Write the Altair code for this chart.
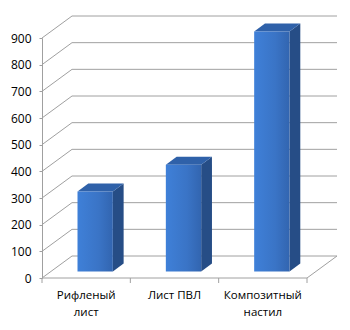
import altair as alt
import pandas as pd

categories = ["Рифленый\nлист", "Лист ПВЛ", "Композитный\nнастил"]
values = [300, 400, 900]
y_ticks = [0, 100, 200, 300, 400, 500, 600, 700, 800, 900]

W, H, YMAX = 265, 240, 900
N = len(categories)
ux = N / W          # data units per px (x)
uy = YMAX / H       # data units per px (y)
DX, DY = 30, 22     # full depth in px
F1, F2 = 0.3, 0.66  # bar front/back depth fraction
HALF = 0.2

front_rows, side_rows, top_rows = [], [], []
for i, v in enumerate(values):
    fdx, fdy = F1 * DX * ux, F1 * DY * uy
    bdx, bdy = F2 * DX * ux, F2 * DY * uy
    L = i + 0.5 - HALF + fdx
    R = i + 0.5 + HALF + fdx
    front_rows.append(dict(cat=i, x=L, x2=R, y=fdy, y2=v + fdy))
    ddx = bdx - fdx
    side_rows.append(dict(cat=i, x=R, y=v + fdy, y2=fdy))
    side_rows.append(dict(cat=i, x=R + ddx, y=v + bdy, y2=bdy))
    top_rows.append(dict(cat=i, y=v + fdy, x=L, x2=R))
    top_rows.append(dict(cat=i, y=v + bdy, x=L + ddx, x2=R + ddx))

front_df = pd.DataFrame(front_rows)
side_df = pd.DataFrame(side_rows)
top_df = pd.DataFrame(top_rows)
grid_df = pd.DataFrame({"v": y_ticks})
lab_df = pd.DataFrame({"x": [i + 0.5 for i in range(N)], "label": categories})
tick_df = pd.DataFrame({"x": list(range(N + 1))})

xs = alt.Scale(domain=[0, N], nice=False, zero=False)
ys = alt.Scale(domain=[0, YMAX], nice=False)
GRID = "#a0a0a0"

yaxis = alt.Axis(
    values=y_ticks, grid=False, domainColor=GRID, tickColor=GRID, tickSize=3,
    labelPadding=8, labelFontSize=12, labelFont="Open Sans", labelColor="#000000",
    labelOverlap=False, labelFlush=False, title=None, domainWidth=1)


def Y(field):
    return alt.Y(field, scale=ys, axis=yaxis)


back_grid = alt.Chart(grid_df).mark_rule(
    color=GRID, strokeWidth=1, xOffset=DX, x2Offset=DX, yOffset=-DY, y2Offset=-DY
).encode(
    x=alt.datum(0, scale=xs),
    x2=alt.datum(N),
    y=Y("v:Q"),
)

diag = alt.Chart(grid_df).mark_rule(
    color=GRID, strokeWidth=1, x2Offset=DX, y2Offset=-DY
).encode(
    x=alt.datum(0, scale=xs),
    x2=alt.datum(0),
    y=Y("v:Q"),
    y2="v:Q",
)

floor_right = alt.Chart(pd.DataFrame({"v": [0]})).mark_rule(
    color=GRID, strokeWidth=1, x2Offset=DX, y2Offset=-DY
).encode(
    x=alt.datum(N, scale=xs), x2=alt.datum(N), y=Y("v:Q"), y2="v:Q"
)

floor_front = alt.Chart(pd.DataFrame({"v": [0]})).mark_rule(color=GRID, strokeWidth=1).encode(
    x=alt.datum(0, scale=xs), x2=alt.datum(N), y=Y("v:Q")
)

xticks = alt.Chart(tick_df).mark_rule(color=GRID, strokeWidth=1, y2Offset=5).encode(
    x=alt.X("x:Q", scale=xs), y=alt.datum(0, scale=ys, axis=yaxis), y2=alt.datum(0)
)

side = alt.Chart(side_df).mark_area(color="#264d86", orient="vertical").encode(
    x=alt.X("x:Q", scale=xs), y=Y("y:Q"), y2="y2:Q", detail="cat:N"
)

top = alt.Chart(top_df).mark_area(color="#2f61a9", orient="horizontal").encode(
    y=Y("y:Q"), x=alt.X("x:Q", scale=xs), x2="x2:Q", detail="cat:N"
)

front = alt.Chart(front_df).mark_rect(
    color=alt.Gradient(
        gradient="linear",
        stops=[alt.GradientStop(color="#3f80d8", offset=0),
               alt.GradientStop(color="#3a74c6", offset=0.6),
               alt.GradientStop(color="#3265b0", offset=1)],
        x1=0, x2=1, y1=0, y2=0,
    )
).encode(
    x=alt.X("x:Q", scale=xs), x2="x2:Q", y=Y("y:Q"), y2="y2:Q"
)

labels = alt.Chart(lab_df).mark_text(
    lineBreak="\n", baseline="top", dy=12, fontSize=11.5, font="Open Sans",
    color="#000000", lineHeight=17
).encode(
    x=alt.X("x:Q", scale=xs), y=alt.datum(0, scale=ys, axis=yaxis), text="label:N"
)

chart = alt.layer(
    back_grid, diag, floor_front, floor_right, xticks, side, top, front, labels
).properties(
    width=W, height=H,
    autosize=alt.AutoSizeParams(type="none"),
    padding={"left": 42, "top": 38, "right": 43, "bottom": 52},
).configure_view(stroke=None).configure_axisX(disable=True)

chart.save("out.html", embed_options={"renderer": "svg", "actions": False})
